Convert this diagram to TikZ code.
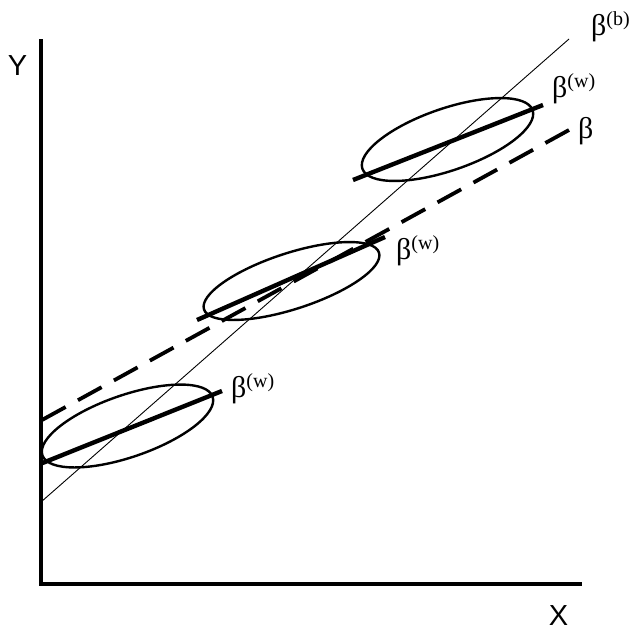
\documentclass[tikz,border=0pt]{standalone}
\usepackage{fontspec}
\setmainfont{Liberation Serif}
\newfontfamily\axisfont{Liberation Sans}
\newcommand\bsup[1]{β\raisebox{0.36em}{\fontsize{20}{20}\selectfont(#1)}}
\begin{document}
\begin{tikzpicture}[x=1pt,y=-1pt,
  axisline/.style={line width=3.6pt},
  thinline/.style={line width=0.9pt},
  dashline/.style={line width=3.8pt,dash pattern=on 27pt off 14.04pt},
  withinline/.style={line width=4.4pt},
  cloud/.style={line width=2.4pt},
  blabel/.style={inner sep=0pt,anchor=north west,font=\fontsize{30}{30}\selectfont},
  alabel/.style={inner sep=0pt,font=\axisfont\fontsize{29}{29}\selectfont}]
\useasboundingbox (0,0) rectangle (635,632);
% axes
\coordinate (otop) at (41,39);
\coordinate (orig) at (41,584);
\coordinate (xend) at (582,584);
\draw[axisline] (otop) -- (orig) -- (xend);
\node[alabel] (ylab) at (17.5,66) {Y};
\node[alabel] (xlab) at (558.5,615.5) {X};
% between line
\coordinate (b0) at (41,502);
\coordinate (b1) at (569,39);
\draw[thinline] (b0) -- (b1);
% pooled dashed line
\coordinate (p0) at (42,420);
\coordinate (p1) at (569,130);
\draw[dashline] (p0) -- (p1);
% ellipses
\coordinate (e1) at (127.5,426);
\coordinate (e2) at (291.5,281);
\coordinate (e3) at (447.5,139.5);
\draw[cloud,rotate around={19:(e1)}] (e1) ellipse [x radius=90pt,y radius=31pt];
\draw[cloud,rotate around={18:(e2)}] (e2) ellipse [x radius=92pt,y radius=28pt];
\draw[cloud,rotate around={19:(e3)}] (e3) ellipse [x radius=90pt,y radius=31pt];
% within lines
\coordinate (w1a) at (40,464);
\coordinate (w1b) at (222,391);
\coordinate (w2a) at (197,320);
\coordinate (w2b) at (385,237);
\coordinate (w3a) at (353,180);
\coordinate (w3b) at (543,105);
\draw[withinline] (w1a) -- (w1b);
\draw[withinline] (w2a) -- (w2b);
\draw[withinline] (w3a) -- (w3b);
% labels
\node[blabel] (lw1) at (231,373) {\bsup{w}};
\node[blabel] (lw2) at (396,235) {\bsup{w}};
\node[blabel] (lw3) at (552,73) {\bsup{w}};
\node[blabel] (lp) at (578,117) {β};
\node[blabel] (lb) at (591,11) {\bsup{b}};
\end{tikzpicture}
\end{document}
